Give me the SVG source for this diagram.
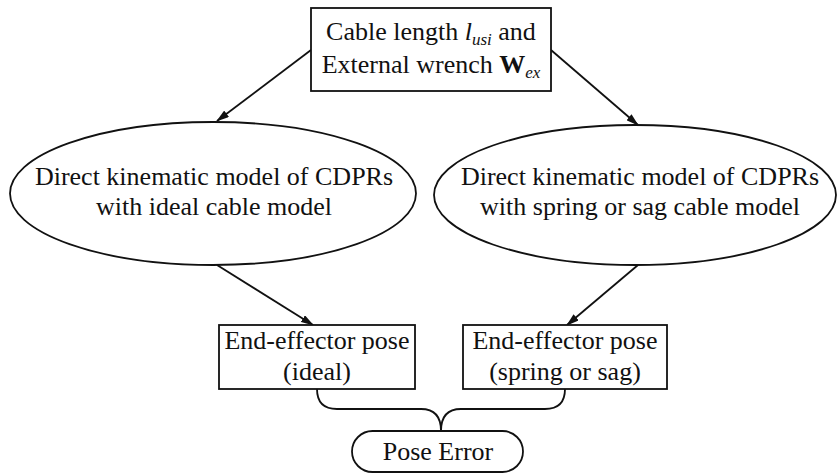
<svg xmlns="http://www.w3.org/2000/svg" width="838" height="474" viewBox="0 0 838 474">
<style>
.s{fill:#fff;stroke:#111;stroke-width:1.8}
.t{font-family:"Liberation Serif","Times New Roman",serif;font-size:26px;fill:#111;text-anchor:middle}
.c{fill:none;stroke:#111;stroke-width:1.8}
</style>
<defs>
<marker id="ah" markerWidth="13" markerHeight="8" refX="12" refY="4" orient="auto" markerUnits="userSpaceOnUse">
<path d="M0,0 L13,4 L0,8 z" fill="#111"/>
</marker>
</defs>
<rect width="838" height="474" fill="#fff"/>
<g id="connectors">
<line class="c" x1="311" y1="50" x2="217" y2="121" marker-end="url(#ah)"/>
<line class="c" x1="551" y1="50" x2="638" y2="125" marker-end="url(#ah)"/>
<line class="c" x1="217" y1="265" x2="313" y2="325" marker-end="url(#ah)"/>
<line class="c" x1="638" y1="265" x2="567" y2="325" marker-end="url(#ah)"/>
<path class="c" d="M317,389 Q317,409 337,409 L421,409 Q441,409 441,431"/>
<path class="c" d="M565,389 Q565,409 545,409 L461,409 Q441,409 441,431"/>
</g>
<g id="input">
<rect class="s" x="311" y="8" width="240" height="83"/>
<text class="t" x="431" y="40">Cable length <tspan font-style="italic">l</tspan><tspan font-style="italic" font-size="17" dy="5">usi</tspan><tspan dy="-5"> and</tspan></text>
<text class="t" x="431" y="73">External wrench <tspan font-weight="bold">W</tspan><tspan font-style="italic" font-size="17" dy="5">ex</tspan></text>
</g>
<g id="ideal-model">
<ellipse class="s" cx="213" cy="193.5" rx="203" ry="71.5"/>
<text class="t" x="214" y="185">Direct kinematic model of CDPRs</text>
<text class="t" x="214" y="215">with ideal cable model</text>
</g>
<g id="spring-model">
<ellipse class="s" cx="635" cy="195" rx="201" ry="70"/>
<text class="t" x="640" y="185">Direct kinematic model of CDPRs</text>
<text class="t" x="640" y="215">with spring or sag cable model</text>
</g>
<g id="pose-ideal">
<rect class="s" x="219" y="325" width="196" height="64"/>
<text class="t" x="317" y="349">End-effector pose</text>
<text class="t" x="317" y="380">(ideal)</text>
</g>
<g id="pose-spring">
<rect class="s" x="463" y="325" width="204" height="64"/>
<text class="t" x="565" y="349">End-effector pose</text>
<text class="t" x="565" y="380">(spring or sag)</text>
</g>
<g id="pose-error">
<rect class="s" x="352" y="431" width="171" height="41" rx="20.5"/>
<text class="t" x="438" y="460">Pose Error</text>
</g>
</svg>
